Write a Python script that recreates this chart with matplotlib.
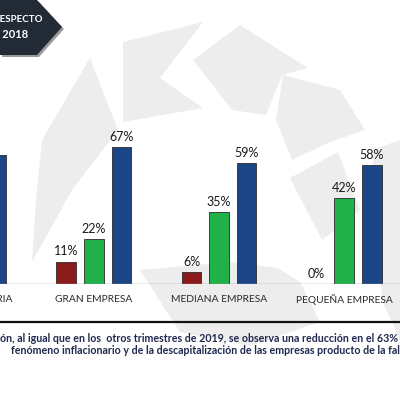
import matplotlib
matplotlib.use("Agg")
import matplotlib.pyplot as plt
from matplotlib.patches import Polygon
from matplotlib.lines import Line2D
import numpy as np

plt.rcParams['font.family'] = ['Lato', 'DejaVu Sans']

# data (first group is mostly cut off on the left)
categories = ['TOTAL INDUSTRIA', 'GRAN EMPRESA', 'MEDIANA EMPRESA', 'PEQUEÑA EMPRESA']
aumento = [5, 11, 6, 0]
igual = [32, 22, 35, 42]
disminuyo = [63, 67, 59, 58]
series = [aumento, igual, disminuyo]
colors = ['#8B1A1A', '#21B14B', '#1D4688']

title_lines = ['VARIACIÓN RESPECTO', 'AL 2018']
note_lines = [
    'ón, al igual que en los  otros trimestres de 2019, se observa una reducción en el 63% de la inversión',
    'fenómeno inflacionario y de la descapitalización de las empresas producto de la falta de liquidez',
]

W, H = 400, 394
fig = plt.figure(figsize=(W / 100, H / 100), dpi=100)
fig.patch.set_facecolor('white')


def px(x, y):
    # slide pixel -> figure fraction
    return (x / W, 1 - y / H)


# faint watermark logo behind the chart
watermark = [
    [(42, 140), (90, 58), (118, 130), (72, 190), (32, 262), (36, 200)],
    [(123, 42), (203, 22), (160, 78), (203, 108), (123, 122)],
    [(193, 60), (240, 25), (308, 68), (282, 75), (266, 115), (232, 110)],
    [(283, 75), (340, 90), (365, 130), (330, 142), (292, 160), (276, 120)],
    [(140, 270), (230, 262), (278, 268), (300, 282), (320, 322), (250, 346), (180, 332)],
    [(290, 178), (338, 152), (360, 210), (322, 240)],
    [(372, 150), (400, 140), (400, 340), (382, 300)],
]
for pts in watermark:
    fig.patches.append(Polygon([px(x, y) for x, y in pts], closed=True,
                               transform=fig.transFigure, facecolor='#EDEDED',
                               edgecolor='none', zorder=-5))

# chart area
ax = fig.add_axes([0, 1 - 284 / H, 1, 100 * 2.045 / H])
ax.set_zorder(1)
ax.patch.set_alpha(0)
ax.set_xlim(0.2508, 3.4457)
ax.set_ylim(0, 100)
ax.axis('off')

x = np.arange(len(categories))
width = 0.156
offsets = [-0.22, 0, 0.22]
for vals, off, col in zip(series, offsets, colors):
    bars = ax.bar(x + off, vals, width, color=col, edgecolor='#2A2A2A', linewidth=0.6, zorder=3)
    for b, v in zip(bars, vals):
        ax.annotate(f'{v}%', (b.get_x() + b.get_width() / 2, v), xytext=(0, 3),
                    textcoords='offset points', ha='center', va='bottom',
                    fontsize=9, color='#1A1A1A', zorder=4)

ax.axhline(0, color='#9A9A9A', linewidth=1.0, zorder=4)

for xi, cat in zip(x, categories):
    ax.text(xi, -16 / 2.045, cat, ha='center', va='center', fontsize=7.4,
            color='#2A2A2A', clip_on=False)

# title tag in the top-left corner
tag = [(0, 0), (37, 0), (62, 27), (37, 55), (0, 55)]
shadow = [(x0 + 2, y0 + 2) for x0, y0 in tag]
fig.patches.append(Polygon([px(a, b) for a, b in shadow], closed=True, transform=fig.transFigure,
                           facecolor='#9A9A9A', edgecolor='none', zorder=2))
fig.patches.append(Polygon([px(a, b) for a, b in tag], closed=True, transform=fig.transFigure,
                           facecolor='#222A35', edgecolor='none', zorder=3))
fig.text(*px(43, 20), title_lines[0], ha='right', va='center', fontsize=7.0,
         fontweight='bold', color='white', zorder=4)
fig.text(*px(28, 35), title_lines[1], ha='right', va='center', fontsize=8.0,
         fontweight='bold', color='white', zorder=4)

# separator line and note text
fig.lines.append(Line2D([0, 1], [1 - 322 / H] * 2, transform=fig.transFigure,
                        color='#111111', linewidth=1.6, zorder=3))
fig.text(*px(0, 339), note_lines[0], ha='left', va='center', fontsize=7.7,
         fontweight='bold', color='#1F2850', zorder=3)
fig.text(*px(11, 350), note_lines[1], ha='left', va='center', fontsize=7.7,
         fontweight='bold', color='#1F2850', zorder=3)

fig.savefig('out.png', dpi=100)
